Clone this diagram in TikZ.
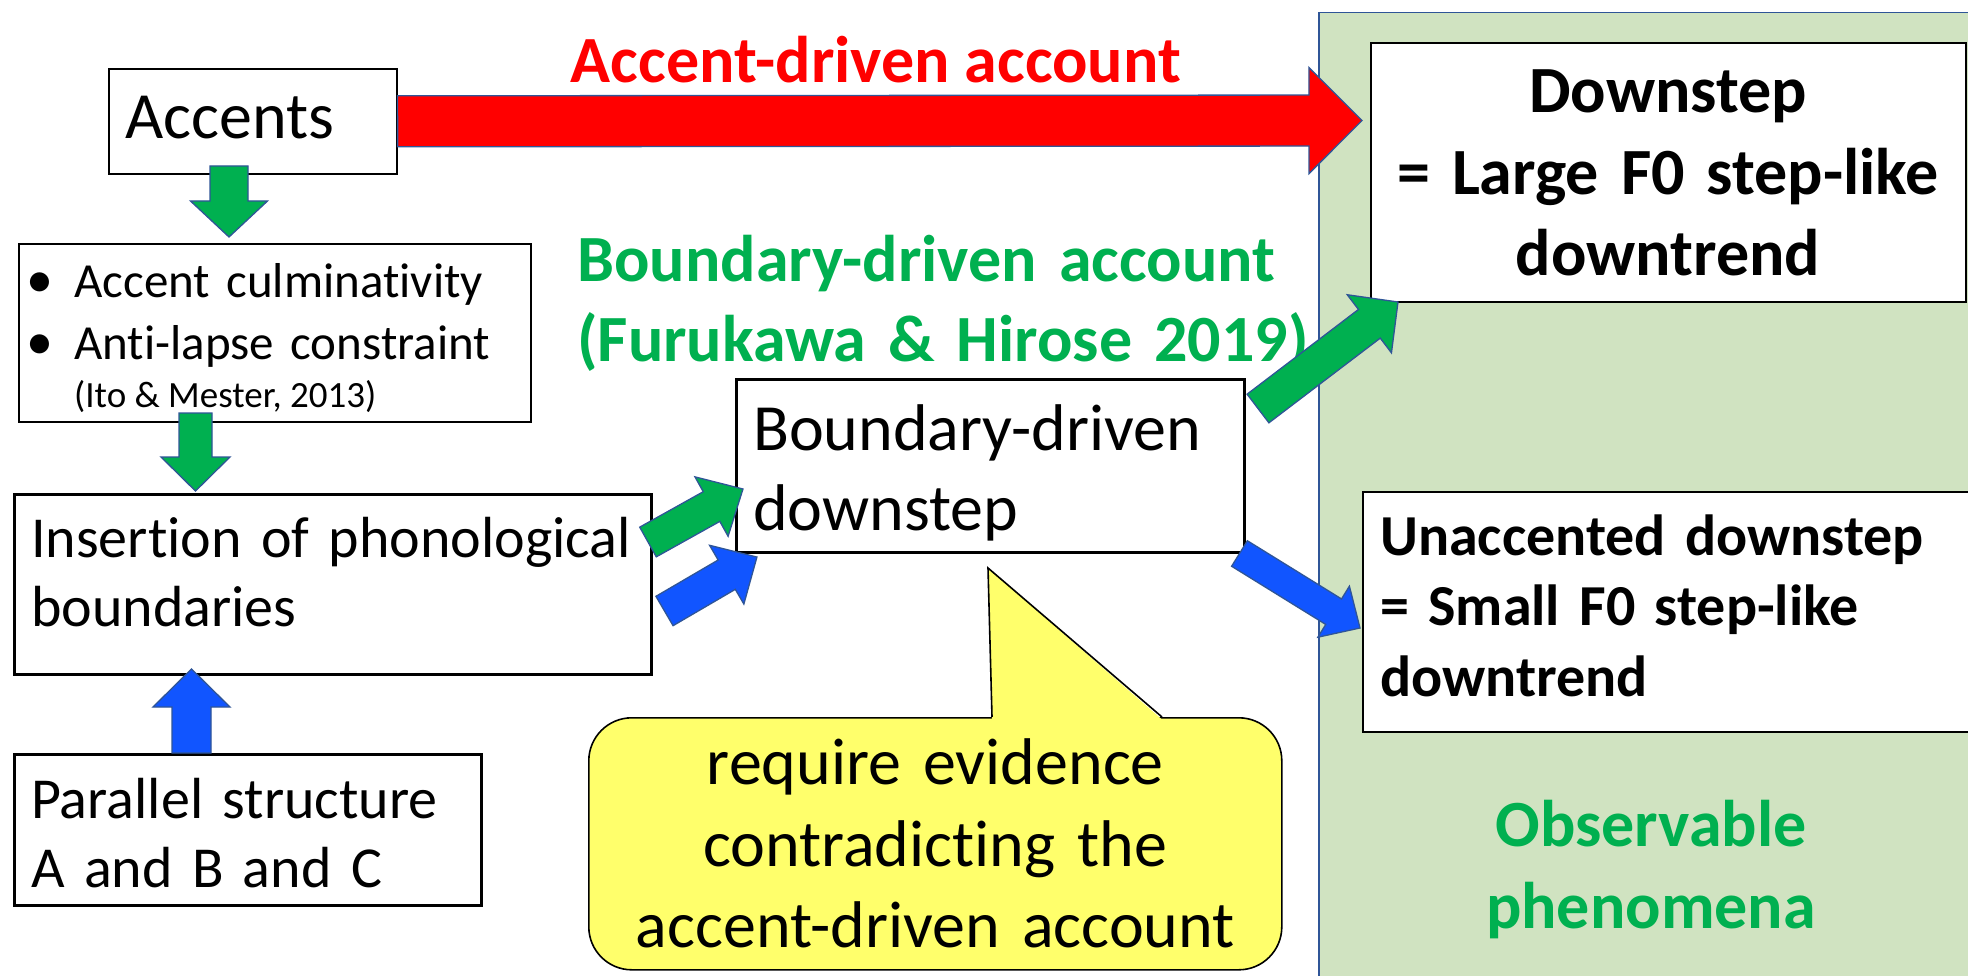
\documentclass[tikz,border=0pt]{standalone}
\usepackage{fontspec}
\setmainfont{Carlito}[Ligatures=NoCommon]
\usetikzlibrary{calc}

\definecolor{pgreen}{RGB}{0,176,80}
\definecolor{pred}{RGB}{255,0,0}
\definecolor{pblue}{RGB}{17,85,255}
\definecolor{edgeblue}{RGB}{47,85,151}
\definecolor{panelgreen}{RGB}{208,227,193}
\definecolor{noteyellow}{RGB}{255,255,107}

\newcommand\fs[2]{\fontsize{#1}{#2}\selectfont}

% block arrow: #1 style, #2 tail, #3 tip, #4 shaft half width, #5 head half width, #6 head length
\newcommand\blockarrow[6]{%
  \path let \p1=(#2), \p2=(#3),
    \n1={atan2((\y2)-(\y1),(\x2)-(\x1))},
    \n2={veclen((\x2)-(\x1),(\y2)-(\y1))} in
    \pgfextra{\xdef\baAng{\n1}\xdef\baLen{\n2}\xdef\baX{\x1}\xdef\baY{\y1}};
  \begin{scope}[shift={(\baX,\baY)}, rotate=\baAng]
    \path[#1] (0,-#4) -- ({\baLen-#6},-#4) -- ({\baLen-#6},-#5) -- (\baLen,0)
      -- ({\baLen-#6},#5) -- ({\baLen-#6},#4) -- (0,#4) -- cycle;
  \end{scope}}

% bullet for the constraint list
\newcommand\listbullet{\makebox[48pt][l]{\fs{54}{62}•}}

\begin{document}
\begin{tikzpicture}[x=1pt,y=-1pt,
  box/.style={draw=black, fill=white, line width=1.6pt, inner sep=0pt, anchor=north west},
  thickbox/.style={box, line width=3pt},
  txt/.style={inner sep=0pt, anchor=base west, align=left},
  ctxt/.style={inner sep=0pt, anchor=base, align=center},
  arrowshape/.style={draw=edgeblue, line width=1.3pt, line join=miter},
  redarrow/.style={arrowshape, fill=pred},
  greenarrow/.style={arrowshape, fill=pgreen},
  bluearrow/.style={arrowshape, fill=pblue}]

\useasboundingbox (0,0) rectangle (1968,976);
\fill[white] (0,0) rectangle (1968,976);

% observable phenomena panel
\node[draw=edgeblue, line width=1.5pt, fill=panelgreen, anchor=north west,
      minimum width=700, minimum height=1000, inner sep=0pt] (panel) at (1318,12) {};

% boxes
\node[box, minimum width=288, minimum height=105] (acc) at (108,68) {};
\node[box, minimum width=512, minimum height=178] (bul) at (18,243) {};
\node[thickbox, minimum width=637, minimum height=180] (ins) at (13,493) {};
\node[thickbox, minimum width=467, minimum height=151] (par) at (13,753) {};
\node[thickbox, minimum width=508, minimum height=173] (bdd) at (735,378) {};
\node[box, minimum width=595, minimum height=259] (down) at (1370,42) {};
\node[box, minimum width=620, minimum height=240] (unacc) at (1362,491) {};

% texts in the boxes
\node[txt, font=\fs{66}{80}] (tAcc) at (125,139) {Accents};
\node[txt, text width=490, font=\fs{49}{62}] (tBul) at (26,298)
  {\listbullet Accent culminativity\\\listbullet Anti-lapse constraint};
\node[txt, font=\fs{37}{44}] (tCite) at (74,407) {(Ito \& Mester, 2013)};
\node[txt, text width=620, font=\fs{58}{69}] (tIns) at (31,557) {Insertion of phonological\\boundaries};
\node[txt, text width=450, font=\fs{58}{69}] (tPar) at (31,818) {Parallel structure\\A and B and C};
\node[txt, text width=490, font=\fs{66}{80}] (tBdd) at (753,450) {Boundary-driven\\downstep};
\node[ctxt, text width=595, font=\bfseries\fs{66}{81.5}] (tDown) at (1668,113)
  {Downstep\\= Large F0 step-like\\downtrend};
\node[txt, text width=590, font=\bfseries\fs{58}{70.5}] (tUnacc) at (1380,555)
  {Unaccented downstep\\= Small F0 step-like\\downtrend};

% headings
\node[ctxt, font=\bfseries\fs{66}{80}, text=pred] (tAda) at (876,83) {Accent-driven account};
\node[txt, text width=760, font=\bfseries\fs{66}{80}, text=pgreen] (tBda) at (577,282)
  {Boundary-driven account\\(Furukawa \& Hirose 2019)};
\node[ctxt, text width=500, font=\bfseries\fs{66}{82}, text=pgreen] (tObs) at (1651,846)
  {Observable\\phenomena};

% callout
\node[draw=black, fill=noteyellow, line width=1.6pt, rounded corners=43, anchor=north west,
      minimum width=693, minimum height=252, inner sep=0pt, text width=680, align=center,
      font=\fs{66}{81.5}] (req) at (588,717)
  {require evidence\\contradicting the\\accent-driven account};
\coordinate (ptrL) at (992,717);
\coordinate (ptrTip) at (988,568);
\coordinate (ptrR) at (1162,717);
\fill[noteyellow] ([yshift=-2.5pt]ptrL) -- (ptrTip) -- ([yshift=-2.5pt]ptrR) -- cycle;
\draw[line width=1.6pt, line join=miter] (ptrL) -- (ptrTip) -- (ptrR);

% arrow end points
\coordinate (redTip) at (1362,120.5);
\coordinate (g1s) at (229,166);   \coordinate (g1e) at (229,237);
\coordinate (g2s) at (195.5,413); \coordinate (g2e) at (195.5,491);
\coordinate (b1s) at (191.5,753); \coordinate (b1e) at (191.5,669);
\coordinate (g3s) at (648,542);   \coordinate (g3e) at (743,489);
\coordinate (b2s) at (664.5,611); \coordinate (b2e) at (757,557);
\coordinate (g4s) at (1258,408.5);\coordinate (g4e) at (1398,302);
\coordinate (b3s) at (1239.5,553.5);\coordinate (b3e) at (1360,628);

% arrows
\blockarrow{redarrow}{acc.east}{redTip}{25.5}{53}{53}
\blockarrow{greenarrow}{g1s}{g1e}{19}{38.5}{36}
\blockarrow{greenarrow}{g2s}{g2e}{16.5}{34.5}{34}
\blockarrow{bluearrow}{b1s}{b1e}{19.5}{38.5}{38}
\blockarrow{greenarrow}{g3s}{g3e}{17}{34}{36}
\blockarrow{bluearrow}{b2s}{b2e}{17}{34}{35}
\blockarrow{greenarrow}{g4s}{g4e}{18}{36.5}{36}
\blockarrow{bluearrow}{b3s}{b3e}{15}{30}{31}

\end{tikzpicture}
\end{document}
